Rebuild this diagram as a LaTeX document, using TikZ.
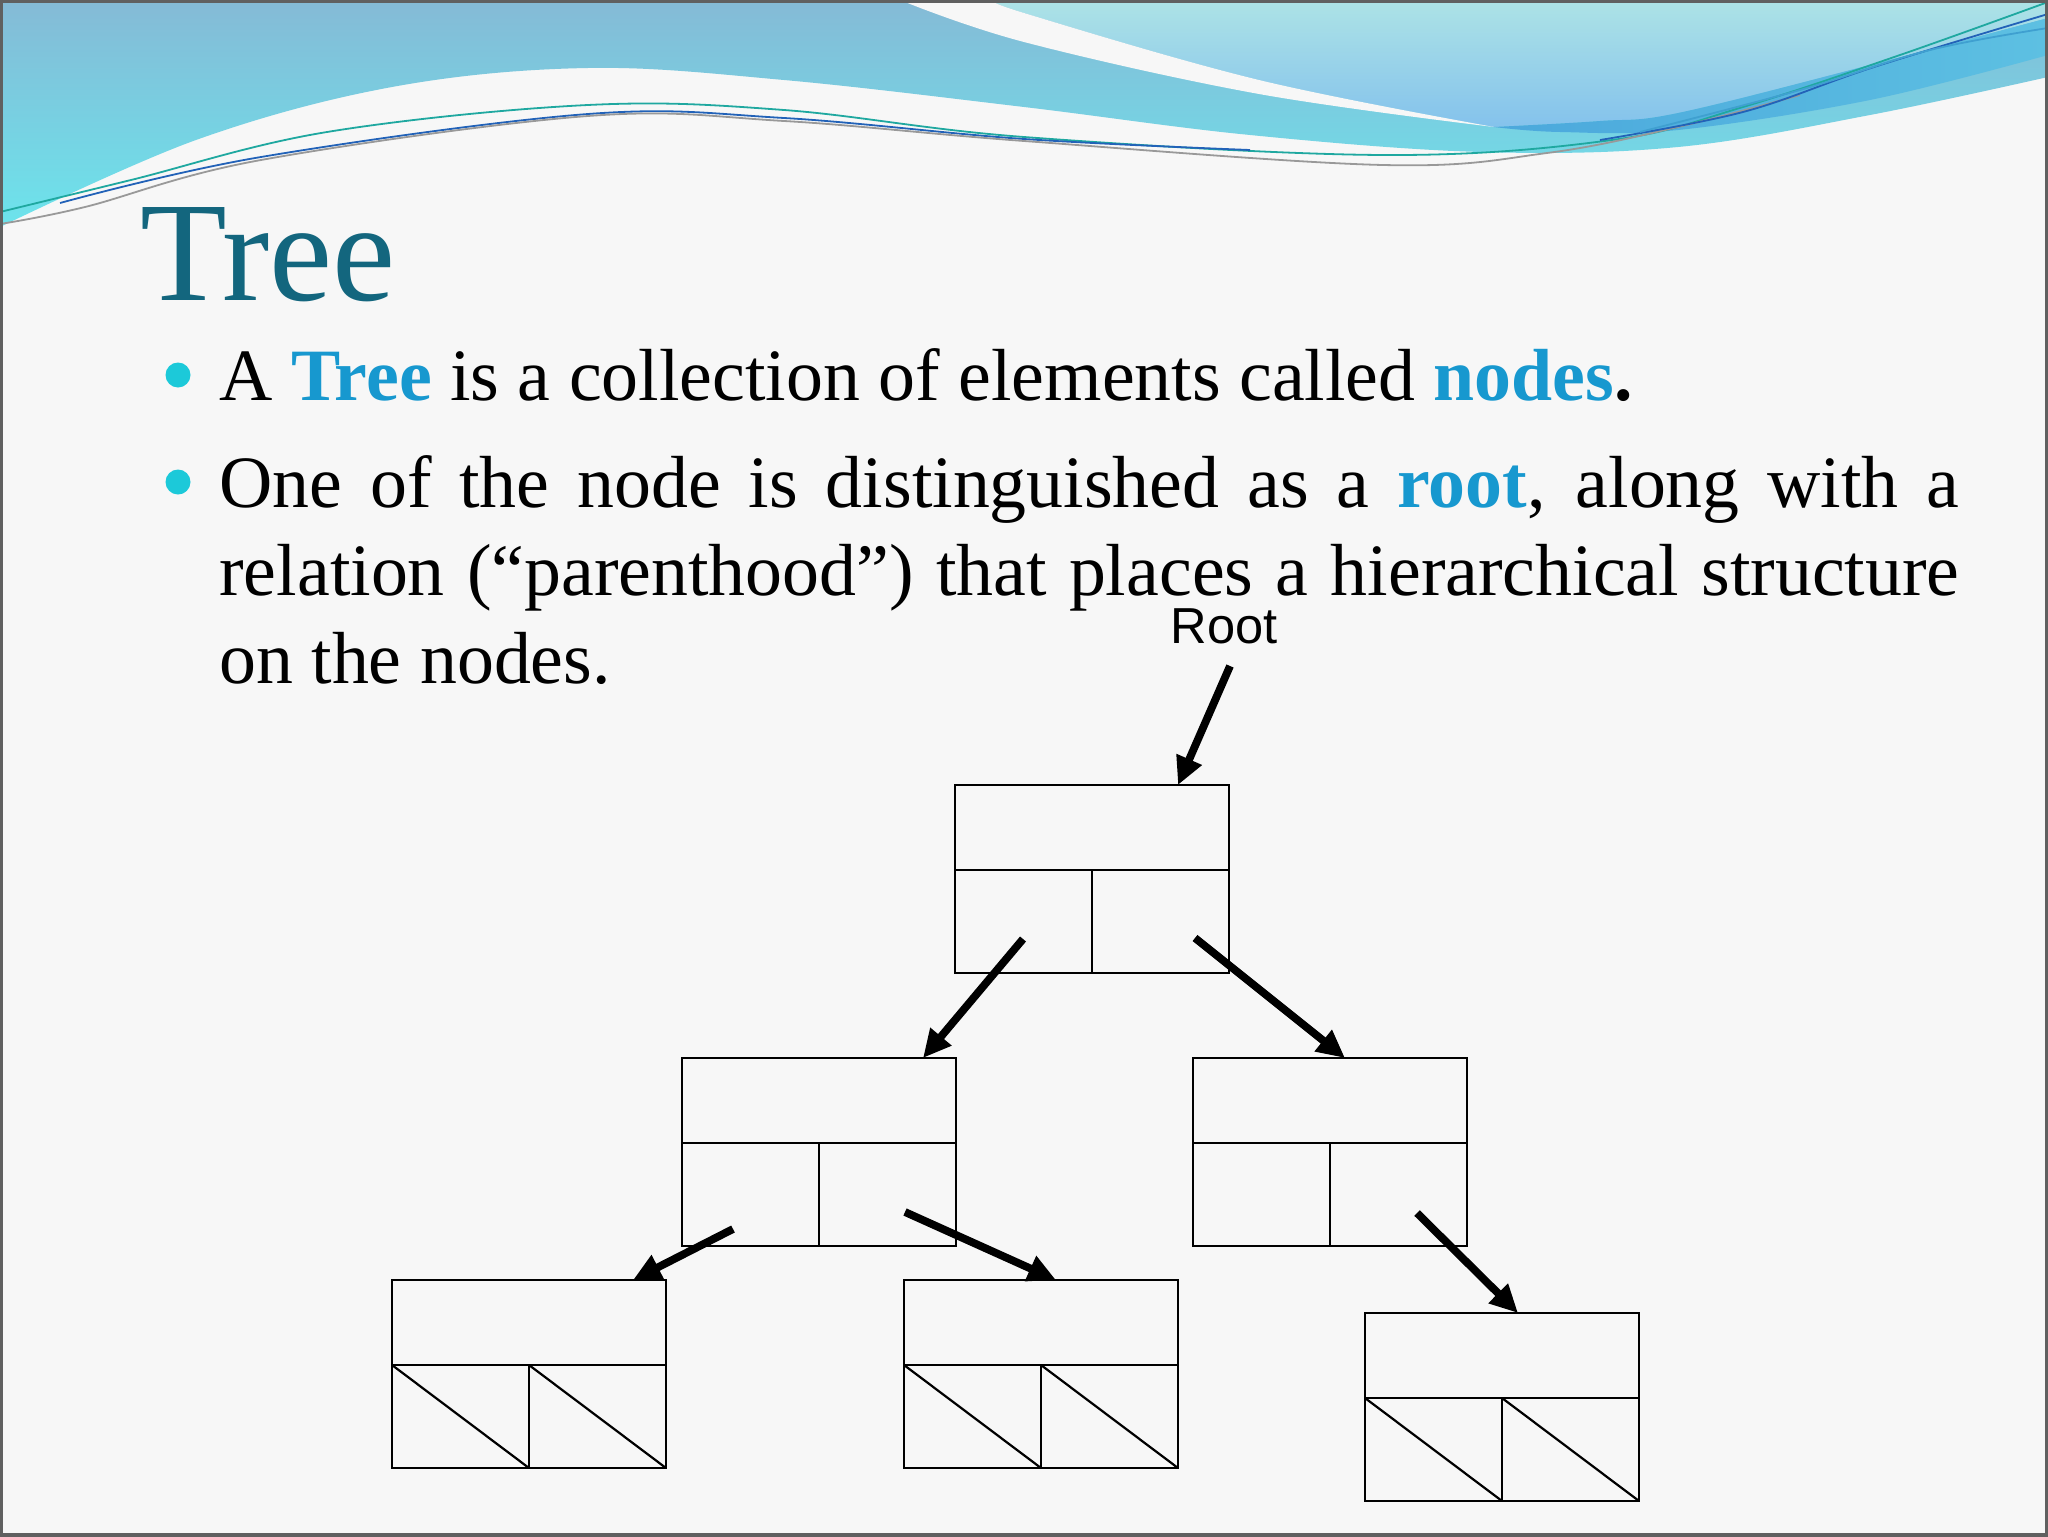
\documentclass[tikz,border=0pt]{standalone}
\usepackage{fontspec}
\setmainfont{Liberation Serif}
\newfontfamily\arialf{Liberation Sans}
\usetikzlibrary{arrows.meta,calc}
\definecolor{titlecol}{HTML}{13667E}
\definecolor{kw}{HTML}{1798CF}
\definecolor{bul}{HTML}{1CC9D9}
\definecolor{bg}{HTML}{F7F7F7}
\definecolor{lineteal}{HTML}{1FA8A0}
\definecolor{lineblue}{HTML}{2262B8}
\definecolor{linesky}{HTML}{3FA0D0}
\newcommand\bodyfont{\fontsize{36.9pt}{44pt}\selectfont}
\newcommand\tcells[1]{%
  \draw[boxline] ($(#1.north west)+(0,85)$) -- ($(#1.north east)+(0,85)$);
  \draw[boxline] ($(#1.north)+(0,85)$) -- (#1.south);}
\newcommand\tdiag[1]{%
  \draw[boxline] ($(#1.north west)+(0,85)$) -- (#1.south);
  \draw[boxline] ($(#1.north)+(0,85)$) -- (#1.south east);}
\begin{document}
\begin{tikzpicture}[x=0.5pt,y=-0.5pt,
  boxline/.style={line width=1.1pt, black},
  tbox/.style={draw, line width=1.1pt, minimum width=137pt, minimum height=94pt,
    inner sep=0pt, outer sep=0pt, anchor=north west},
  link/.style={line width=3.9pt, -{Triangle[length=14pt,width=13pt]}},
  thinline/.style={line width=0.9pt}]
\useasboundingbox (0,0) rectangle (2048,1536);
\fill[bg] (0,0) rectangle (2048,1536);
% header: main coloured region
\shade[top color={rgb,255:red,133;green,186;blue,214}, bottom color={rgb,255:red,108;green,228;blue,236}]
  (0,0) -- (2048,0) -- (2048,77)
  -- plot[smooth, tension=0.6] coordinates {(2048,77) (1870,115) (1678,147) (1481,152) (1250,135) (1024,107) (784,80) (588,68) (392,87) (196,140) (0,227)}
  -- cycle;
% light region upper right
\shade[top color={rgb,255:red,173;green,227;blue,230}, bottom color={rgb,255:red,132;green,194;blue,236}]
  (995,0) -- plot[smooth, tension=0.6] coordinates {(995,0) (1024,13) (1259,80) (1494,127)}
  -- plot[smooth, tension=0.6] coordinates {(1494,127) (1600,121) (1678,113) (1870,65) (2048,18)}
  -- (2048,0) -- cycle;
% darker band
\shade[left color={rgb,255:red,75;green,168;blue,220}, right color={rgb,255:red,93;green,192;blue,226}]
  (1494,127) -- plot[smooth, tension=0.6] coordinates {(1494,127) (1600,121) (1678,113) (1870,65) (2048,18)}
  -- (2048,55)
  -- plot[smooth, tension=0.6] coordinates {(2048,55) (1870,100) (1678,130) (1560,132) (1494,127)}
  -- cycle;
% white wedge
\fill[bg] (900,0) -- plot[smooth, tension=0.6] coordinates {(900,0) (1024,42) (1259,94) (1494,127)}
  -- plot[smooth, tension=0.6] coordinates {(1494,127) (1259,80) (1024,13) (995,0)} -- cycle;
% thin lines
\draw[thinline, lineteal] plot[smooth, tension=0.6] coordinates {(0,212) (131,180) (327,132) (588,105) (784,110) (1024,137) (1383,155) (1612,140) (1743,107) (1900,55) (2048,2)};
\draw[thinline, lineblue] plot[smooth, tension=0.6] coordinates {(60,203) (261,157) (588,114) (784,118) (1024,139) (1250,150)};
\draw[thinline, gray!80] plot[smooth, tension=0.6] coordinates {(0,224) (85,207) (261,160) (588,116) (784,121) (1024,141) (1383,165) (1547,153) (1678,127) (1800,95)};
\draw[thinline, lineblue] plot[smooth, tension=0.6] coordinates {(1600,140) (1743,112) (1874,67) (2048,14)};
\draw[thinline, linesky] plot[smooth, tension=0.6] coordinates {(1640,132) (1800,90) (1930,50) (2048,28)};
% border
\draw[line width=1.6pt, gray!75!black] (1,1) rectangle (2047,1535);
% title and text
\node[anchor=base west, inner sep=0pt, text=titlecol, font=\fontsize{71pt}{80pt}\selectfont] (title) at (140,300) {Tree};
\node[circle, fill=bul, minimum size=12.5pt, inner sep=0pt] (b1) at (178,375) {};
\node[circle, fill=bul, minimum size=12.5pt, inner sep=0pt] (b2) at (178,482) {};
\node[anchor=base west, inner sep=0pt, font=\bodyfont] (line1) at (219,400)
  {A \textbf{\color{kw}Tree} is a collection of elements called \textbf{\color{kw}nodes}\textbf{.}};
\node[anchor=base west, inner sep=0pt, font=\bodyfont] (para) at (219,507)
  {\parbox[t]{870pt}{One of the node is distinguished as a \textbf{\color{kw}root}, along with a\linebreak relation (“parenthood”) that places a hierarchical structure\linebreak on the nodes.}};
% tree
\node[anchor=base, inner sep=0pt, font=\arialf\fontsize{25.3pt}{30pt}\selectfont] (rootlbl) at (1224,643) {Root};
\node[tbox] (root) at (955,785) {};
\node[tbox] (lm) at (682,1058) {};
\node[tbox] (rm) at (1193,1058) {};
\node[tbox] (la) at (392,1280) {};
\node[tbox] (lb) at (904,1280) {};
\node[tbox] (lc) at (1365,1313) {};
\tcells{root}\tcells{lm}\tcells{rm}\tcells{la}\tcells{lb}\tcells{lc}
\tdiag{la}\tdiag{lb}\tdiag{lc}
\coordinate (rs) at (1230,666);
\draw[link] (rs) -- ($(root.north west)+(223,0)$);
\draw[link] ($(root.north west)+(68,154)$) -- ($(lm.north west)+(241,0)$);
\draw[link] ($(root.north west)+(240,153)$) -- ($(rm.north west)+(152,0)$);
\draw[link] ($(lm.north west)+(51,171)$) -- ($(la.north west)+(241,0)$);
\draw[link] ($(lm.north west)+(223,154)$) -- ($(lb.north west)+(152,0)$);
\draw[link] ($(rm.north west)+(224,155)$) -- ($(lc.north west)+(153,0)$);
\end{tikzpicture}
\end{document}
